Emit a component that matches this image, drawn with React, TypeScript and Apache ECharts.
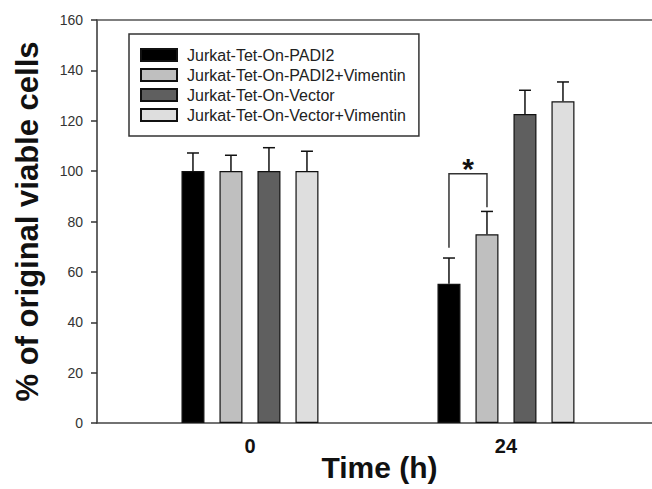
import React, { useEffect, useRef } from "react";
import * as echarts from "echarts";

const timePoints = [0, 24];
const seriesNames = [
  "Jurkat-Tet-On-PADI2",
  "Jurkat-Tet-On-PADI2+Vimentin",
  "Jurkat-Tet-On-Vector",
  "Jurkat-Tet-On-Vector+Vimentin",
];
const padi2 = [100, 55.3];
const padi2Vim = [100, 74.9];
const vector = [100, 122.7];
const vectorVim = [100, 127.7];
const padi2Err = [7.2, 10.2];
const padi2VimErr = [6.3, 9.1];
const vectorErr = [9.3, 9.4];
const vectorVimErr = [7.9, 7.7];
// significance bracket at 24 h: [time, left bottom, top, right bottom]
const bracket = [[24, 69.6, 99, 85.7]];
const yTicks = { min: 0, max: 160, interval: 20 };

const colors = ["#000000", "#bfbfbf", "#5f5f5f", "#dedede"];
const BAR_W = 23;
const BAR_GAP = 15;

export default function App() {
  const ref = useRef<HTMLDivElement>(null);
  useEffect(() => {
    if (!ref.current) return;
    const chart = echarts.init(ref.current, null, { renderer: "svg" });
    const means = [padi2, padi2Vim, vector, vectorVim];
    const errs = [padi2Err, padi2VimErr, vectorErr, vectorVimErr];
    const off = (i: number) => (i - 1.5) * (BAR_W + BAR_GAP);
    const xMin = -14.34;
    const xMax = 37.69;

    const barSeries = seriesNames.map((name, i) => ({
      name,
      type: "bar",
      xAxisIndex: 0,
      barWidth: BAR_W,
      barGap: ((BAR_GAP / BAR_W) * 100).toFixed(1) + "%",
      itemStyle: { color: colors[i], borderColor: "#111", borderWidth: 1.2 },
      data: timePoints.map((t, k) => [t, means[i][k]]),
      z: 2,
    }));

    const errSeries = seriesNames.map((name, i) => ({
      type: "custom",
      name: name + "-err",
      xAxisIndex: 0,
      z: 3,
      silent: true,
      data: timePoints.map((t, k) => [t, means[i][k], errs[i][k]]),
      renderItem: (params: any, api: any) => {
        const x = api.value(0);
        const m = api.value(1);
        const e = api.value(2);
        const base = api.coord([x, m]);
        const top = api.coord([x, m + e]);
        const cx = base[0] + off(i);
        const st = { stroke: "#111", lineWidth: 1.5 };
        return {
          type: "group",
          children: [
            { type: "line", shape: { x1: cx, y1: base[1], x2: cx, y2: top[1] }, style: st },
            { type: "line", shape: { x1: cx - 6, y1: top[1], x2: cx + 6, y2: top[1] }, style: st },
          ],
        };
      },
    }));

    const bracketSeries = {
      type: "custom",
      name: "sig",
      xAxisIndex: 0,
      z: 3,
      silent: true,
      data: bracket,
      renderItem: (params: any, api: any) => {
        const x = api.value(0);
        const pL = api.coord([x, api.value(1)]);
        const pT = api.coord([x, api.value(2)]);
        const pR = api.coord([x, api.value(3)]);
        const xl = pL[0] + off(0);
        const xr = pL[0] + off(1);
        return {
          type: "group",
          children: [
            {
              type: "polyline",
              shape: { points: [[xl, pL[1]], [xl, pT[1]], [xr, pT[1]], [xr, pR[1]]] },
              style: { stroke: "#333", lineWidth: 1.5, fill: null },
            },
            {
              type: "text",
              x: (xl + xr) / 2,
              y: pT[1] - 5,
              style: {
                text: "*",
                fontSize: 30,
                fontWeight: "bold",
                fontFamily: "Liberation Sans, Arial, sans-serif",
                fill: "#111",
                align: "center",
                verticalAlign: "middle",
              },
            },
          ],
        };
      },
    };

    chart.setOption({
      animation: false,
      backgroundColor: "#ffffff",
      textStyle: { fontFamily: "Liberation Sans, Arial, sans-serif" },
      grid: {
        left: 97,
        right: 0,
        top: 20,
        bottom: 66,
        containLabel: false,
        outerBoundsMode: "none",
      },
      legend: {
        data: seriesNames,
        orient: "vertical",
        left: 129,
        top: 34,
        padding: [13, 13, 13, 11],
        itemWidth: 36,
        itemHeight: 12,
        itemGap: 4,
        borderColor: "#333",
        borderWidth: 1.5,
        icon: "rect",
        selectedMode: false,
        textStyle: { fontSize: 16, color: "#222", lineHeight: 16, padding: [0, 0, 0, 5] },
      },
      xAxis: [
        {
          type: "value",
          min: xMin,
          max: xMax,
          axisLine: { show: true, onZero: false, lineStyle: { color: "#444", width: 1.5 } },
          axisTick: { show: false },
          splitLine: { show: false },
          axisLabel: {
            customValues: timePoints,
            fontSize: 20,
            fontWeight: "bold",
            color: "#111",
            margin: 13,
            formatter: (v: number) => String(v),
          },
          name: "Time (h)",
          nameLocation: "middle",
          nameGap: 29,
          nameMoveOverlap: false,
          nameTextStyle: {
            fontSize: 30,
            fontWeight: "bold",
            color: "#111",
            padding: [0, 0, 0, 10],
          },
        },
        {
          type: "value",
          position: "top",
          min: xMin,
          max: xMax,
          axisLine: { show: true, onZero: false, lineStyle: { color: "#555", width: 1.5 } },
          axisTick: { show: false },
          axisLabel: { show: false },
          splitLine: { show: false },
        },
      ],
      yAxis: {
        type: "value",
        min: yTicks.min,
        max: yTicks.max,
        interval: yTicks.interval,
        axisLine: { show: true, onZero: false, lineStyle: { color: "#333", width: 1.5 } },
        axisTick: { show: true, length: 6, lineStyle: { color: "#333", width: 1.5 } },
        splitLine: { show: false },
        axisLabel: { fontSize: 14, color: "#333", margin: 14 },
        name: "% of original viable cells",
        nameLocation: "middle",
        nameGap: 54,
        nameMoveOverlap: false,
        nameTextStyle: { fontSize: 31, fontWeight: "bold", color: "#111" },
      },
      series: [...barSeries, ...errSeries, bracketSeries],
    });
    return () => chart.dispose();
  }, []);
  return (
    <div
      ref={ref}
      style={{ position: "fixed", left: 0, top: 0, width: 652, height: 489 }}
    />
  );
}
